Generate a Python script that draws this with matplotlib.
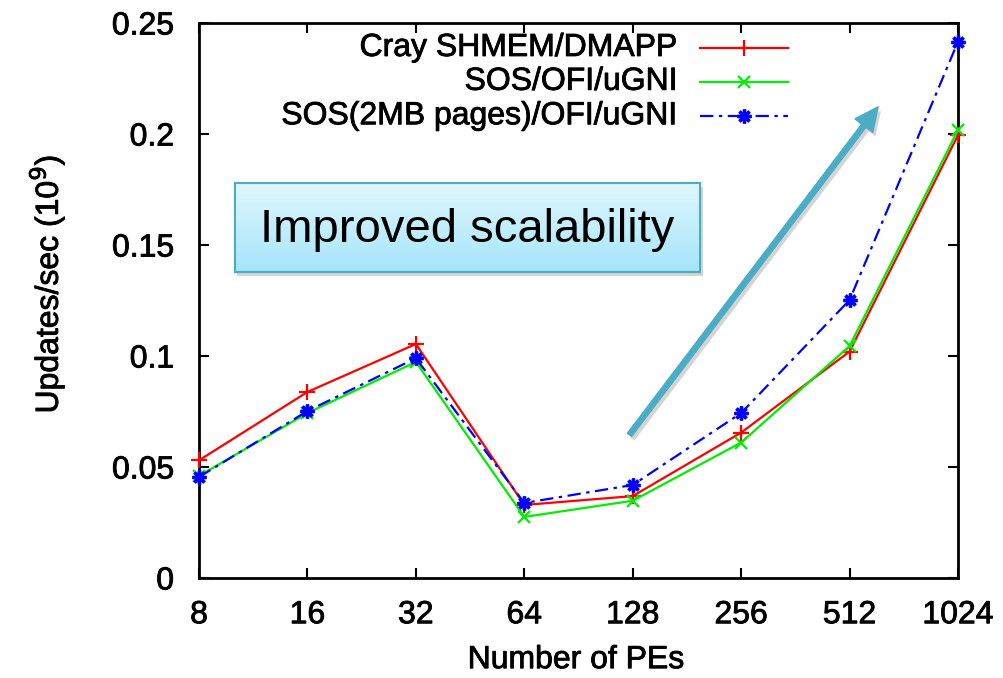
import numpy as np
import matplotlib
matplotlib.use("Agg")
import matplotlib.pyplot as plt
from matplotlib import patheffects
from matplotlib.patches import Rectangle, FancyArrowPatch
from matplotlib.ticker import FixedLocator, NullLocator

plt.rcParams["font.family"] = ["Liberation Sans", "DejaVu Sans"]

# GUPS results, updates/sec in units of 1e9
pes = [8, 16, 32, 64, 128, 256, 512, 1024]
cray_shmem = [0.053, 0.0838, 0.1054, 0.0329, 0.0369, 0.0655, 0.1020, 0.1995]
sos_ofi = [0.046, 0.0743, 0.0973, 0.0275, 0.0348, 0.0610, 0.1045, 0.2018]
sos_2mb = [0.0455, 0.0752, 0.0990, 0.0338, 0.0419, 0.0743, 0.1252, 0.2416]

labels = ["Cray SHMEM/DMAPP", "SOS/OFI/uGNI", "SOS(2MB pages)/OFI/uGNI"]
yticks = [0, 0.05, 0.1, 0.15, 0.2, 0.25]
ytick_labels = ["0", "0.05", "0.1", "0.15", "0.2", "0.25"]

styles = [
    dict(color="#ff0000", marker="+", linestyle="-", ms=11, mew=1.6),
    dict(color="#00ee00", marker="x", linestyle="-", ms=9, mew=1.6),
    dict(color="#0000ff", marker=(8, 2, 0), dashes=(6, 2.5, 1.5, 2.5), ms=10, mew=2.4),
]

# slightly heavier strokes for the gnuplot-style text
heavy = [patheffects.withStroke(linewidth=0.6, foreground="black")]

fig = plt.figure(figsize=(10.04, 6.78), dpi=100)
ax = fig.add_axes([199 / 1004, 100 / 678, 759 / 1004, 555 / 678])

for series, st in zip([cray_shmem, sos_ofi, sos_2mb], styles):
    ax.plot(pes, series, lw=1.6, clip_on=False, zorder=3, **st)

ax.set_xscale("log", base=2)
ax.set_xlim(8, 1024)
ax.set_ylim(0, 0.25)
ax.xaxis.set_major_locator(FixedLocator(pes))
ax.xaxis.set_minor_locator(NullLocator())
ax.set_xticklabels([str(p) for p in pes])
ax.set_yticks(yticks)
ax.set_yticklabels(ytick_labels)
ax.tick_params(axis="both", direction="in", length=7, width=1.5,
               top=True, right=True, labelsize=23, colors="black")
ax.tick_params(axis="x", pad=16)
ax.tick_params(axis="y", pad=18)
for sp in ax.spines.values():
    sp.set_linewidth(2)
for t in ax.get_xticklabels() + ax.get_yticklabels():
    t.set_path_effects(heavy)

ax.set_xlabel("Number of PEs", fontsize=23, path_effects=heavy)
ax.xaxis.label.set_va("center")
ax.xaxis.set_label_coords(0.497, -0.148)
ax.set_ylabel("Updates/sec (10$^9$)", fontsize=23, path_effects=heavy)
ax.yaxis.label.set_va("center")
ax.yaxis.set_label_coords(-0.200, 0.53)

# key in the upper part of the plot, text right-aligned before each sample
key_y = [0.955, 0.894, 0.832]
for lab, st, ky in zip(labels, styles, key_y):
    ax.text(0.631, ky, lab, ha="right", va="center", fontsize=23,
            transform=ax.transAxes, path_effects=heavy)
    ax.plot([0.660, 0.718, 0.776], [ky, ky, ky], lw=1.6, markevery=[1],
            transform=ax.transAxes, clip_on=False, **st)

# callout box with a light gradient and drop shadow
bx0, by0, bw, bh = 0.047, 0.551, 0.613, 0.161
shadow = [patheffects.SimplePatchShadow(offset=(2, -3), alpha=0.25,
                                        shadow_rgbFace="#555555"),
          patheffects.Normal()]
box = Rectangle((bx0, by0), bw, bh, transform=ax.transAxes, facecolor="#c2effc",
                edgecolor="#4bacc6", lw=1.5, zorder=4)
box.set_path_effects(shadow)
ax.add_patch(box)

bax = ax.inset_axes([bx0, by0, bw, bh], zorder=5)
grad = np.linspace(0, 1, 64).reshape(-1, 1)
top = np.array([0.88, 0.97, 0.995])
bottom = np.array([0.65, 0.90, 0.98])
img = top + (bottom - top) * grad[..., None]
bax.imshow(img, aspect="auto", extent=[0, 1, 0, 1], origin="upper")
bax.set_xticks([])
bax.set_yticks([])
for sp in bax.spines.values():
    sp.set_color("#4bacc6")
    sp.set_linewidth(1.5)
bax.text(0.5, 0.47, "Improved scalability", ha="center", va="center",
         fontsize=34, color="black", transform=bax.transAxes)

# arrow pointing up along the 2MB-pages curve
arrow = FancyArrowPatch((0.565, 0.254), (0.897, 0.853), transform=ax.transAxes,
                        arrowstyle="simple,head_length=0.85,head_width=0.8,tail_width=0.19",
                        mutation_scale=20, color="#4bacc6", zorder=4)
arrow.set_path_effects([patheffects.SimplePatchShadow(offset=(2, -3), alpha=0.25,
                                                      shadow_rgbFace="#555555"),
                        patheffects.Normal()])
ax.add_patch(arrow)

fig.savefig("out.png", dpi=100)
